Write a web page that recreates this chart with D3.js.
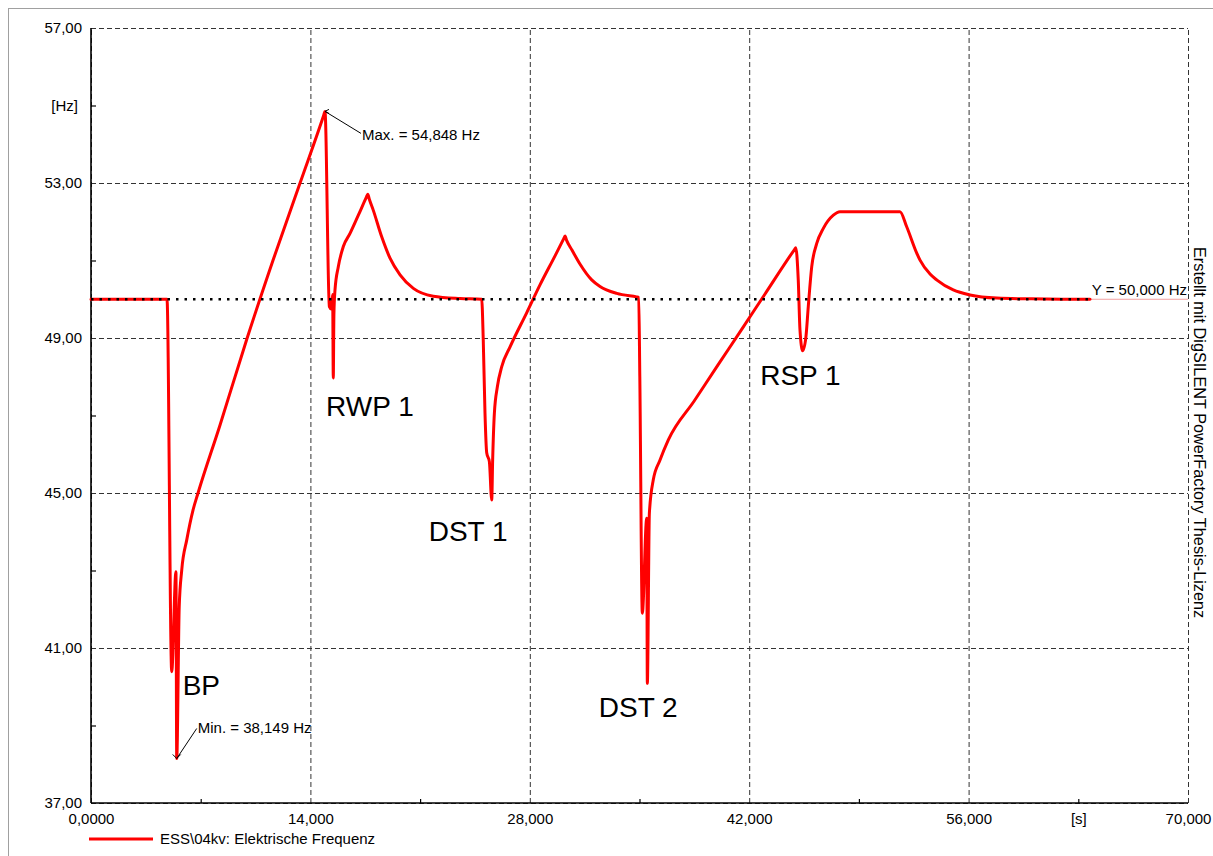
<!DOCTYPE html>
<html>
<head>
<meta charset="utf-8">
<script src="https://cdn.jsdelivr.net/npm/d3@7"></script>
<style>
  body { margin: 0; background: #fff; }
  svg { font-family: "Liberation Sans", Arial, sans-serif; }
</style>
</head>
<body>
<svg width="1213" height="856"></svg>
<script>
// time in seconds, frequency in Hz
const timeS = [
  0, 4850, 5150, 5420, 5470, 5630, 5790, 6110, 6510, 6830, 8230, 9950, 11610, 13340, 14850, 14930,
  15210, 15330, 15420, 15460, 15500, 15570, 15780, 16100, 16530, 17060, 17580, 17660, 17760, 18010,
  18550, 19080, 19720, 20570, 21840, 23550, 24930,
  25030, 25140, 25250, 25420, 25570, 25630, 25740, 25930, 26210, 26740, 27800, 28650, 29610,
  30150, 30250, 30350, 30690, 31200, 31950, 32480, 33550, 34820, 34950,
  35020, 35180, 35460, 35500, 35630, 35880, 36310, 36840, 38500, 40000, 41500, 43000, 44900, 44970,
  45130, 45240, 45410, 45620, 45770, 45990, 46310, 46730, 47370, 47790, 51620, 52050, 52690,
  52900, 53540, 53960, 55020, 56090, 57800, 60000, 63750
];
const freqHz = [
  50.0, 50.0, 40.39, 42.97, 38.149, 42.07, 43.01, 43.79, 44.56, 45.0, 46.75, 48.98, 51.0, 53.0, 54.75, 54.848,
  49.81, 49.75, 50.12, 47.97, 49.6, 50.24, 50.84, 51.36, 51.70, 52.17, 52.64, 52.71, 52.58, 52.30,
  51.61, 51.06, 50.63, 50.28, 50.08, 50.02, 50.0,
  48.95, 47.07, 46.04, 45.81, 44.82, 45.85, 47.06, 47.74, 48.26, 48.77, 49.65, 50.37, 51.12,
  51.55, 51.63, 51.52, 51.27, 50.91, 50.50, 50.33, 50.15, 50.06, 50.05,
  48.0, 41.90, 44.35, 40.09, 44.48, 45.34, 45.85, 46.37, 47.38, 48.30, 49.21, 50.13, 51.29, 51.33,
  50.50, 49.21, 48.67, 49.03, 49.81, 50.84, 51.44, 51.83, 52.17, 52.26, 52.26, 51.87, 51.19,
  51.01, 50.65, 50.50, 50.24, 50.11, 50.03, 50.01, 50.0
];

const xMajor = [0, 14000, 28000, 42000, 56000, 70000];
const xMajorLabels = ["0,0000", "14,000", "28,000", "42,000", "56,000", "70,000"];
const xMinor = [7000, 21000, 35000, 49000, 63000];
const yMajor = [57, 53, 49, 45, 41, 37];
const yMajorLabels = ["57,00", "53,00", "49,00", "45,00", "41,00", "37,00"];
const yMinor = [55, 51, 47, 43, 39];

const events = ["BP", "RWP 1", "DST 1", "DST 2", "RSP 1"];
const eventTime = [5850, 15000, 21550, 32400, 42700];
const eventFreq = [39.79, 47.0, 43.76, 39.22, 47.79];

const refValue = 50;
const minValue = 38.149, minTime = 5470;
const maxValue = 54.848, maxTime = 14930;
const seriesName = "ESS\\04kv: Elektrische Frequenz";
const creditText = "Erstellt mit DigSILENT PowerFactory Thesis-Lizenz";

const data = timeS.map((t, i) => ({ t, f: freqHz[i] }));

const svg = d3.select("svg");
const pLeft = 91, pRight = 1188, pTop = 28, pBottom = 803;

const x = d3.scaleLinear().domain([0, 70000]).range([pLeft, pRight]);
const y = d3.scaleLinear().domain([37, 57]).range([pBottom, pTop]);

// outer frame
svg.append("rect")
  .attr("x", 8.5).attr("y", 8.5).attr("width", 1220).attr("height", 900)
  .attr("fill", "none").attr("stroke", "#a0a0a0").attr("stroke-width", 1);

// grid + labels
const gx = svg.append("g")
  .attr("transform", `translate(0,${pBottom})`)
  .call(d3.axisBottom(x).tickValues(xMajor).tickSize(-(pBottom - pTop)).tickPadding(10)
    .tickFormat((d, i) => xMajorLabels[i]));
gx.select(".domain").remove();
gx.selectAll(".tick line").attr("stroke", "#333").attr("stroke-dasharray", "5,3");
gx.selectAll("text").style("font-size", "15px").attr("fill", "#000");

const gy = svg.append("g")
  .attr("transform", `translate(${pLeft},0)`)
  .call(d3.axisLeft(y).tickValues(yMajor).tickSize(-(pRight - pLeft)).tickPadding(9)
    .tickFormat((d, i) => yMajorLabels[i]));
gy.select(".domain").remove();
gy.selectAll(".tick line").attr("stroke", "#333").attr("stroke-dasharray", "5,3");
gy.selectAll("text").style("font-size", "15px").attr("fill", "#000");

// minor ticks
const gxm = svg.append("g")
  .attr("transform", `translate(0,${pBottom})`)
  .call(d3.axisBottom(x).tickValues(xMinor).tickSize(-4).tickPadding(10)
    .tickFormat(d => d === 63000 ? "[s]" : ""));
gxm.select(".domain").remove();
gxm.selectAll(".tick line").attr("stroke", "#000").attr("stroke-width", 1.2);
gxm.selectAll("text").style("font-size", "15px").attr("fill", "#000");

const gym = svg.append("g")
  .attr("transform", `translate(${pLeft},0)`)
  .call(d3.axisLeft(y).tickValues(yMinor).tickSize(-5).tickPadding(13)
    .tickFormat(d => d === 55 ? "[Hz]" : ""));
gym.select(".domain").remove();
gym.selectAll(".tick line").attr("stroke", "#000").attr("stroke-width", 1.2);
gym.selectAll("text").style("font-size", "15px").attr("fill", "#000");

// axis lines
svg.append("line").attr("x1", pLeft).attr("x2", pLeft).attr("y1", pTop).attr("y2", pBottom)
  .attr("stroke", "#000").attr("stroke-width", 1.6);
svg.append("line").attr("x1", pLeft).attr("x2", pRight).attr("y1", pBottom).attr("y2", pBottom)
  .attr("stroke", "#000").attr("stroke-width", 1.6);

// faint continuation of the reference line
const lastT = timeS[timeS.length - 1];
svg.append("line")
  .attr("x1", x(lastT)).attr("x2", pRight).attr("y1", y(refValue)).attr("y2", y(refValue))
  .attr("stroke", "#f2a0a0").attr("stroke-width", 1);

// curve
const line = d3.line().x(d => x(d.t)).y(d => y(d.f)).curve(d3.curveMonotoneX);
svg.append("path").datum(data)
  .attr("d", line)
  .attr("fill", "none").attr("stroke", "#ff0000").attr("stroke-width", 3)
  .attr("stroke-linejoin", "round").attr("stroke-linecap", "round");

// dotted reference line
svg.append("line")
  .attr("x1", pLeft).attr("x2", x(lastT)).attr("y1", y(refValue)).attr("y2", y(refValue))
  .attr("stroke", "#000").attr("stroke-width", 2.5).attr("stroke-dasharray", "2.5,6");

svg.append("text")
  .attr("x", pRight - 1).attr("y", y(refValue) - 4)
  .attr("text-anchor", "end").style("font-size", "15px")
  .text("Y = 50,000 Hz");

// min / max annotations
const mx = x(maxTime), my = y(maxValue);
svg.append("line").attr("x1", mx).attr("y1", my).attr("x2", mx + 36).attr("y2", my + 22)
  .attr("stroke", "#000").attr("stroke-width", 1);
svg.append("path").attr("d", `M${mx + 4},${my - 2}L${mx},${my}L${mx + 4},${my + 2}`)
  .attr("fill", "none").attr("stroke", "#000").attr("stroke-width", 1);
svg.append("text").attr("x", mx + 37).attr("y", my + 29).style("font-size", "15px")
  .text("Max. = " + d3.format(".3f")(maxValue).replace(".", ",") + " Hz");

const nx = x(minTime), ny = y(minValue);
svg.append("line").attr("x1", nx).attr("y1", ny).attr("x2", nx + 20).attr("y2", ny - 30)
  .attr("stroke", "#000").attr("stroke-width", 1);
svg.append("path").attr("d", `M${nx - 4},${ny - 4}L${nx},${ny}L${nx + 4},${ny - 4}`)
  .attr("fill", "none").attr("stroke", "#000").attr("stroke-width", 1);
svg.append("text").attr("x", nx + 21).attr("y", ny - 25).style("font-size", "15px")
  .text("Min. = " + d3.format(".3f")(minValue).replace(".", ",") + " Hz");

// event labels
svg.append("g").selectAll("text").data(events).join("text")
  .attr("x", (d, i) => x(eventTime[i]))
  .attr("y", (d, i) => y(eventFreq[i]))
  .style("font-size", "28px")
  .text(d => d);

// credit text
svg.append("text")
  .attr("transform", "translate(1194,247) rotate(90)")
  .style("font-size", "16.3px")
  .text(creditText);

// legend
svg.append("line").attr("x1", 89).attr("x2", 153).attr("y1", 839).attr("y2", 839)
  .attr("stroke", "#ff0000").attr("stroke-width", 3);
svg.append("text").attr("x", 160).attr("y", 844).style("font-size", "15px").text(seriesName);
</script>
</body>
</html>
